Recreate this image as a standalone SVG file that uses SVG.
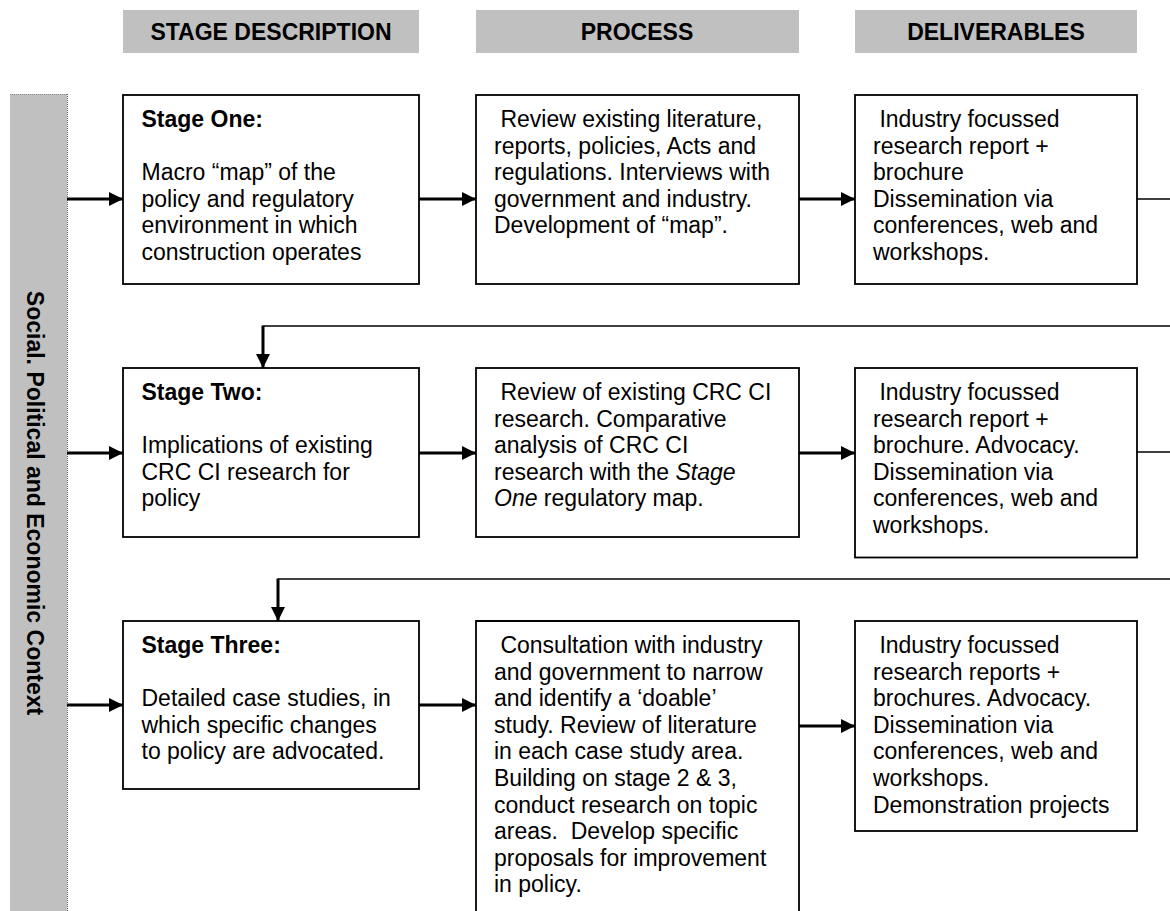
<svg xmlns="http://www.w3.org/2000/svg" width="1170" height="911" viewBox="0 0 1170 911">
<defs>
<style>
text{font-family:"Liberation Sans",Arial,sans-serif;font-size:23px;fill:#000}
.b{font-weight:bold}
.h{font-weight:bold;font-size:23px;text-anchor:middle}
.hdr{fill:#c0c0c0}
.box{fill:#fff;stroke:#000;stroke-width:1.8}
.arr{stroke:#000;stroke-width:3;fill:none;marker-end:url(#ah)}
.thin{stroke:#000;stroke-width:1.6;fill:none}
.it{font-style:italic}
</style>
<marker id="ah" markerUnits="userSpaceOnUse" viewBox="0 0 14 14" refX="14" refY="7" markerWidth="14" markerHeight="14" orient="auto">
<path d="M0,0 L14,7 L0,14 z" fill="#000"/>
</marker>
</defs>
<rect width="1170" height="911" fill="#fff"/>

<g id="headers">
<rect class="hdr" x="123" y="10" width="296" height="43"/>
<text class="h" x="271" y="39.5">STAGE DESCRIPTION</text>
<rect class="hdr" x="476" y="10" width="323" height="43"/>
<text class="h" x="637" y="39.5">PROCESS</text>
<rect class="hdr" x="855" y="10" width="282" height="43"/>
<text class="h" x="996" y="39.5">DELIVERABLES</text>
</g>

<g id="context-bar">
<rect x="10" y="94" width="57" height="817" fill="#c0c0c0"/>
<line x1="67.5" y1="94" x2="67.5" y2="911" stroke="#666" stroke-width="1" stroke-dasharray="1,1"/>
<line x1="10" y1="94.5" x2="67" y2="94.5" stroke="#888" stroke-width="1" stroke-dasharray="1,1"/>
<text class="b" text-anchor="middle" transform="translate(27,503) rotate(90)">Social. Political and Economic Context</text>
</g>

<g id="connectors">
<line class="arr" x1="67" y1="199" x2="123" y2="199"/>
<line class="arr" x1="419" y1="199" x2="476" y2="199"/>
<line class="arr" x1="799" y1="199" x2="855" y2="199"/>
<line class="thin" x1="1137" y1="199" x2="1170" y2="199"/>
<polyline class="thin" points="1170,326 263,326"/>
<line class="arr" x1="263" y1="325.5" x2="263" y2="368"/>

<line class="arr" x1="67" y1="453" x2="123" y2="453"/>
<line class="arr" x1="419" y1="453" x2="476" y2="453"/>
<line class="arr" x1="799" y1="453" x2="855" y2="453"/>
<line class="thin" x1="1137" y1="452" x2="1170" y2="452"/>
<polyline class="thin" points="1170,579 278,579"/>
<line class="arr" x1="278" y1="578.5" x2="278" y2="621"/>

<line class="arr" x1="67" y1="705" x2="123" y2="705"/>
<line class="arr" x1="419" y1="705" x2="476" y2="705"/>
<line class="arr" x1="799" y1="726" x2="855" y2="726"/>
</g>

<g id="stage-one">
<rect class="box" x="123" y="95" width="296" height="189"/>
<text class="b" x="141.5" y="127">Stage One:</text>
<text x="141.5" y="180">Macro “map” of the</text>
<text x="141.5" y="206.6">policy and regulatory</text>
<text x="141.5" y="233.2">environment in which</text>
<text x="141.5" y="259.8">construction operates</text>
</g>

<g id="process-one">
<rect class="box" x="476" y="95" width="323" height="189"/>
<text x="500.4" y="127">Review existing literature,</text>
<text x="494" y="153.6">reports, policies, Acts and</text>
<text x="494" y="180.2">regulations. Interviews with</text>
<text x="494" y="206.8">government and industry.</text>
<text x="494" y="233.4">Development of “map”.</text>
</g>

<g id="deliverables-one">
<rect class="box" x="855" y="95" width="282" height="189"/>
<text x="879.4" y="127">Industry focussed</text>
<text x="873" y="153.6">research report +</text>
<text x="873" y="180.2">brochure</text>
<text x="873" y="206.8">Dissemination via</text>
<text x="873" y="233.4">conferences, web and</text>
<text x="873" y="260">workshops.</text>
</g>

<g id="stage-two">
<rect class="box" x="123" y="368" width="296" height="169"/>
<text class="b" x="141.5" y="400">Stage Two:</text>
<text x="141.5" y="453.2">Implications of existing</text>
<text x="141.5" y="479.8">CRC CI research for</text>
<text x="141.5" y="506.4">policy</text>
</g>

<g id="process-two">
<rect class="box" x="476" y="368" width="323" height="169"/>
<text x="500.4" y="400">Review of existing CRC CI</text>
<text x="494" y="426.6">research. Comparative</text>
<text x="494" y="453.2">analysis of CRC CI</text>
<text x="494" y="479.8">research with the <tspan class="it">Stage</tspan></text>
<text x="494" y="506.4"><tspan class="it">One</tspan> regulatory map.</text>
</g>

<g id="deliverables-two">
<rect class="box" x="855" y="368" width="282" height="189.5"/>
<text x="879.4" y="400">Industry focussed</text>
<text x="873" y="426.6">research report +</text>
<text x="873" y="453.2">brochure. Advocacy.</text>
<text x="873" y="479.8">Dissemination via</text>
<text x="873" y="506.4">conferences, web and</text>
<text x="873" y="533">workshops.</text>
</g>

<g id="stage-three">
<rect class="box" x="123" y="621" width="296" height="168"/>
<text class="b" x="141.5" y="653">Stage Three:</text>
<text x="141.5" y="706.2">Detailed case studies, in</text>
<text x="141.5" y="732.8">which specific changes</text>
<text x="141.5" y="759.4">to policy are advocated.</text>
</g>

<g id="process-three">
<path class="box" d="M476,912 V621 H799 V912"/>
<text x="500.4" y="653">Consultation with industry</text>
<text x="494" y="679.6">and government to narrow</text>
<text x="494" y="706.2">and identify a ‘doable’</text>
<text x="494" y="732.8">study. Review of literature</text>
<text x="494" y="759.4">in each case study area.</text>
<text x="494" y="786">Building on stage 2 &amp; 3,</text>
<text x="494" y="812.6">conduct research on topic</text>
<text x="494" y="839.2" xml:space="preserve">areas.  Develop specific</text>
<text x="494" y="865.8">proposals for improvement</text>
<text x="494" y="892.4">in policy.</text>
</g>

<g id="deliverables-three">
<rect class="box" x="855" y="621" width="282" height="210"/>
<text x="879.4" y="653">Industry focussed</text>
<text x="873" y="679.6">research reports +</text>
<text x="873" y="706.2">brochures. Advocacy.</text>
<text x="873" y="732.8">Dissemination via</text>
<text x="873" y="759.4">conferences, web and</text>
<text x="873" y="786">workshops.</text>
<text x="873" y="812.6">Demonstration projects</text>
</g>
</svg>
